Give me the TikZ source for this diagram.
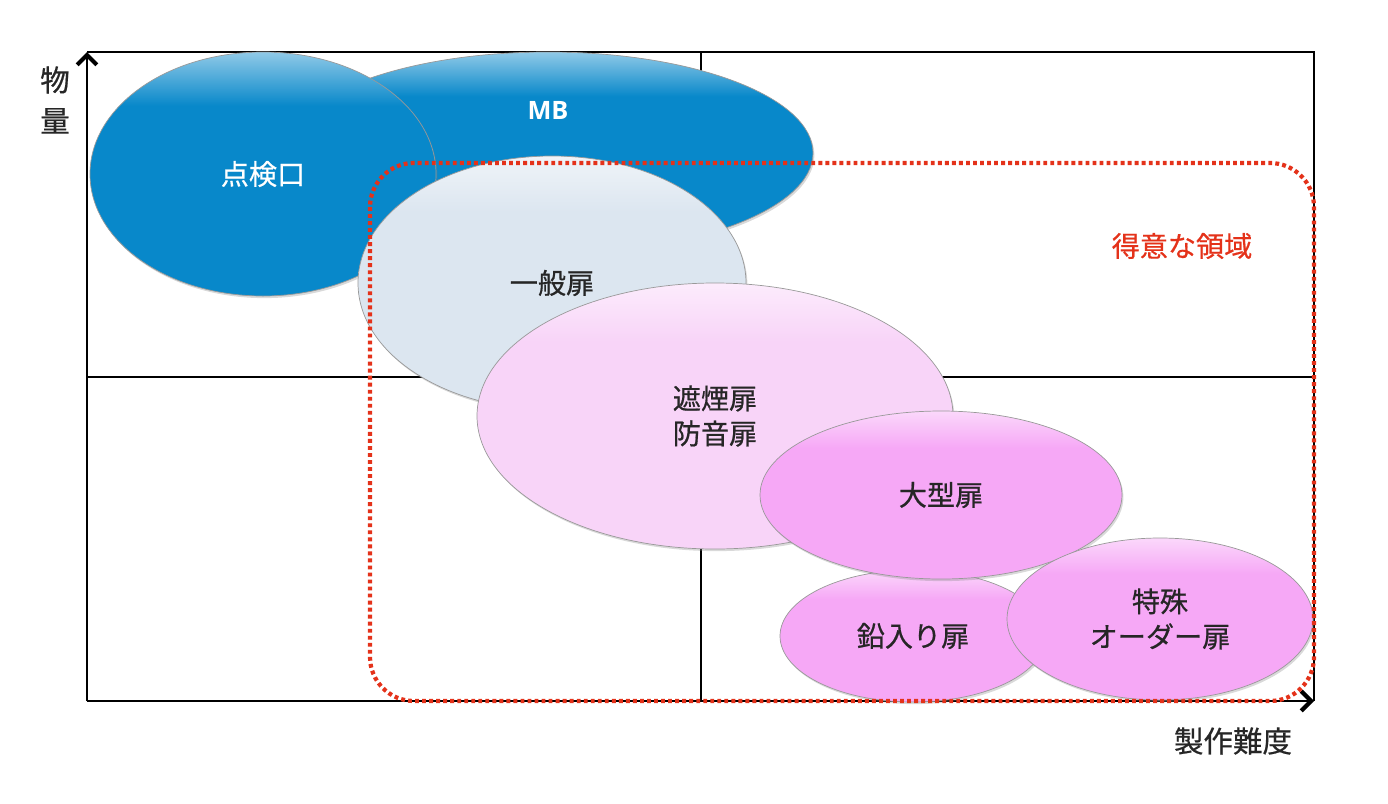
\documentclass[tikz,border=0pt]{standalone}
\usepackage{fontspec}
\setmainfont{Noto Sans CJK JP}[FakeBold=0.6]
\newfontfamily\latinfont{Open Sans}
\usetikzlibrary{arrows.meta, shapes.geometric, shadows}
\definecolor{DoorBlue}{RGB}{8, 136, 202}
\definecolor{DoorGray}{RGB}{220, 230, 240}
\definecolor{DoorPink}{RGB}{248, 212, 248}
\definecolor{DoorMagenta}{RGB}{246, 168, 246}
\definecolor{ZoneRed}{RGB}{228, 50, 26}
\colorlet{rimbase}{white}
\colorlet{rimtop}{white}
\pgfdeclareverticalshading[rimbase,rimtop]{rim}{100bp}{color(0bp)=(rimbase);
  color(25bp)=(rimbase); color(64bp)=(rimbase); color(75bp)=(rimtop); color(100bp)=(rimtop)}
\tikzset{
  door/.style={ellipse, inner sep=0pt, draw=black!40, line width=1pt,
               /utils/exec={\colorlet{rimbase}{#1}\colorlet{rimtop}{#1!45!white}},
               shade, shading=rim,
               drop shadow={shadow xshift=2pt, shadow yshift=-3pt, opacity=0.3},
               font=\fontsize{40}{50}\selectfont, text=black!85, align=center},
  frame/.style={draw=black, line width=1.8pt},
  axis/.style={frame, -{Straight Barb[length=14pt, width=28pt, line width=6pt]}},
  zone/.style={draw=ZoneRed, line width=6pt, dash pattern=on 5.5pt off 4.5pt,
               rounded corners=22mm},
  axislabel/.style={font=\fontsize{42}{58}\selectfont, text=black!85, align=center},
  zonelabel/.style={font=\fontsize{40}{50}\selectfont, text=ZoneRed},
  mblabel/.style={font=\latinfont\bfseries\fontsize{36}{40}\selectfont, text=white,
                  yshift=21.5mm},
}
\begin{document}
\begin{tikzpicture}[x=0.5mm, y=-0.5mm]
  \useasboundingbox (0,0) rectangle (1388,803);

  % frame and quadrants
  \coordinate (origin) at (87,701);
  \coordinate (ytop)   at (87,52);
  \coordinate (xend)   at (1314,701);
  \draw[frame] (ytop) -| (xend);
  \draw[frame] (701,52) -- (701,701);
  \draw[frame] (87,377) -- (1314,377);
  \draw[axis] (origin) -- (ytop);
  \draw[axis] (origin) -- (xend);

  \node[axislabel] (qty)  at (55,100)  {物\\量};
  \node[axislabel] (diff) at (1233,741) {製作難度};

  % products
  \node[door=DoorBlue, minimum width=265mm, minimum height=101mm,
        label={[mblabel]center:MB}] (mb) at (548,153) {};
  \node[door=DoorBlue, text=white, minimum width=173mm, minimum height=122mm]
       (tenken) at (263,174) {点検口};
  \node[door=DoorGray, minimum width=194mm, minimum height=127mm]
       (ippan) at (552,283) {一般扉};
  \node[door=DoorPink, minimum width=238mm, minimum height=133mm]
       (shaen) at (715,416) {遮煙扉\\防音扉};
  \node[door=DoorMagenta, minimum width=133mm, minimum height=66mm]
       (namari) at (913,636) {鉛入り扉};
  \node[door=DoorMagenta, minimum width=181mm, minimum height=84mm]
       (ogata) at (941,495) {大型扉};
  \node[door=DoorMagenta, minimum width=153mm, minimum height=81mm]
       (tokushu) at (1160,619) {特殊\\オーダー扉};

  % strong area
  \draw[zone] (370,163) rectangle (1314,701);
  \node[zonelabel] (zonetxt) at (1182,246) {得意な領域};
\end{tikzpicture}
\end{document}
